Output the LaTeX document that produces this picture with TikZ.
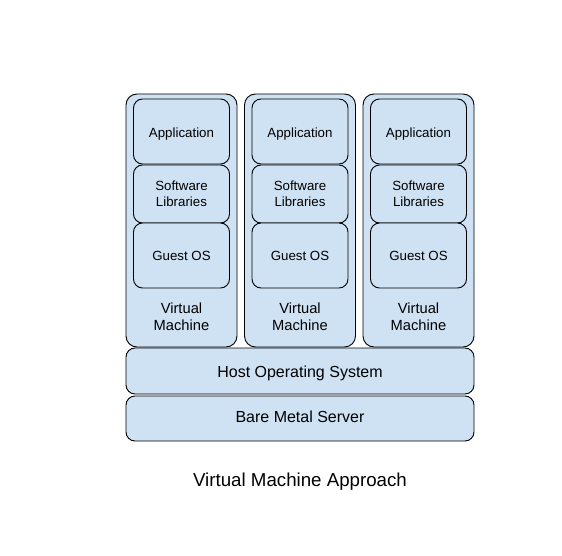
\documentclass[tikz,border=0pt]{standalone}
\usepackage{fontspec}
\setmainfont{Liberation Sans}
\definecolor{boxfill}{HTML}{CFE2F3}
\begin{document}
\begin{tikzpicture}[x=1pt,y=-1pt,
  box/.style={draw=black, line width=0.9pt, fill=boxfill, rectangle, rounded corners=9pt, inner sep=0pt},
  vmbox/.style={box, minimum width=111pt, minimum height=253pt, rounded corners=11pt},
  layer/.style={box, minimum width=96pt, align=center, font=\fontsize{13.3}{16}\selectfont},
  base/.style={box, minimum width=348pt, font=\fontsize{16}{19}\selectfont, text depth=0pt},
  lbl/.style={align=center, inner sep=0pt}]
\useasboundingbox (0,0) rectangle (562,556);
\fill[white] (0,0) rectangle (562,556);
\foreach \i/\cx in {1/181.5,2/300,3/418.5}{
  \node[vmbox] (vm\i) at (\cx,220.5) {};
  \node[layer, minimum height=65pt, text height=12pt, text depth=0pt] (app\i) at (\cx,131.5) {Application};
  \node[layer, minimum height=58pt] (lib\i) at (\cx,194) {Software\\Libraries};
  \node[layer, minimum height=65pt, text height=9.5pt, text depth=0pt] (os\i) at (\cx,255.5) {Guest OS};
  \node[lbl, font=\fontsize{14.7}{16.3}\selectfont] (vml\i) at (\cx,316.6) {Virtual\\Machine};
}
\node[base, minimum height=46pt, text height=13pt] (host) at (300,371) {Host Operating System};
\node[base, minimum height=45pt, text height=8.6pt] (bare) at (300,418.5) {Bare Metal Server};
\node[lbl, anchor=base, font=\fontsize{18.7}{22}\selectfont] (title) at (300,486) {Virtual Machine Approach};
\end{tikzpicture}
\end{document}
